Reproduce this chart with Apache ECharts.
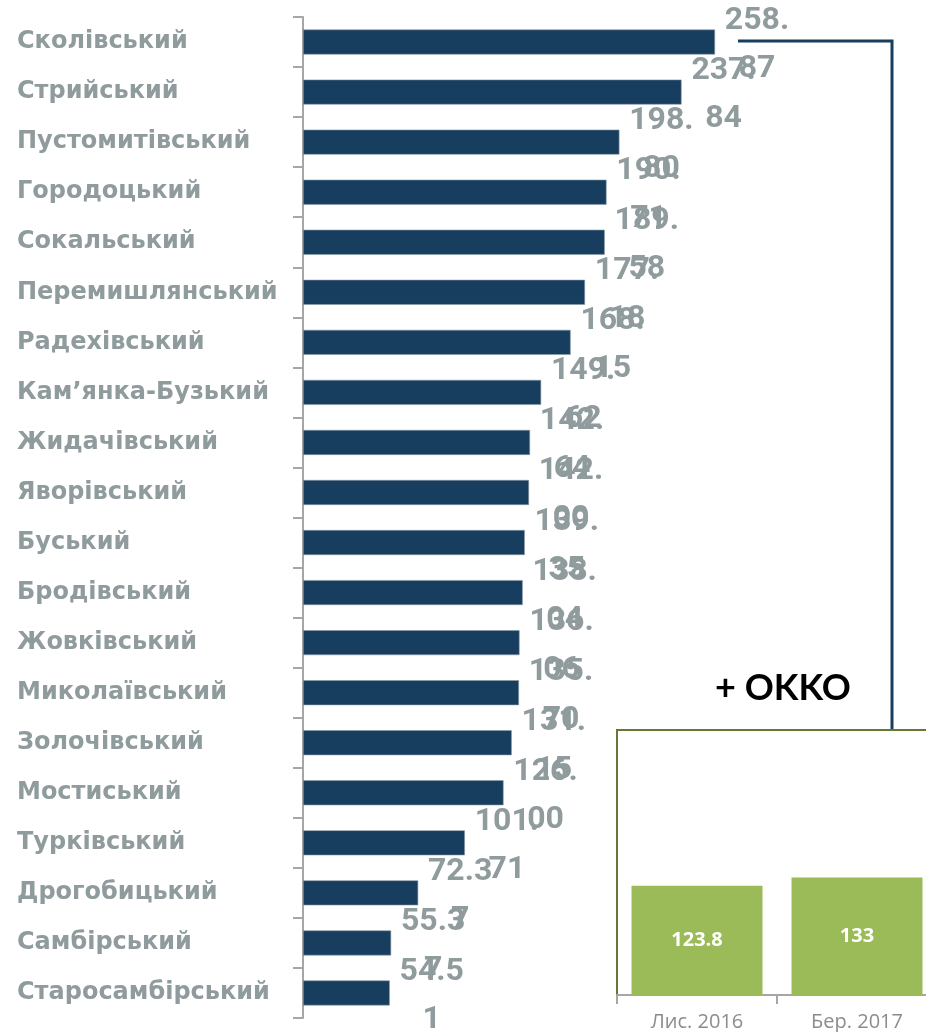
<!DOCTYPE html>
<html>
<head>
<meta charset="utf-8">
<script src="https://cdn.jsdelivr.net/npm/echarts@6/dist/echarts.min.js"></script>
<style>
  html, body { margin: 0; padding: 0; background: #fff; }
  #chart { width: 926px; height: 1032px; }
</style>
</head>
<body>
<div id="chart"></div>
<script>
// райони Львівської області
const districts = [
  'Сколівський', 'Стрийський', 'Пустомитівський', 'Городоцький', 'Сокальський',
  'Перемишлянський', 'Радехівський', 'Кам’янка-Бузький', 'Жидачівський', 'Яворівський',
  'Буський', 'Бродівський', 'Жовківський', 'Миколаївський', 'Золочівський',
  'Мостиський', 'Турківський', 'Дрогобицький', 'Самбірський', 'Старосамбірський'
];
const districtValues = [
  258.87, 237.84, 198.80, 190.71, 189.58,
  177.18, 168.15, 149.62, 142.64, 142.00,
  139.35, 138.04, 136.06, 135.70, 131.15,
  126.00, 101.71, 72.37, 55.37, 54.51
];
// вставка ОККО
const okkoMonths = ['Лис. 2016', 'Бер. 2017'];
const okkoValues = [123.8, 133];

const navy = '#173d5f';
const grey = '#8f9b9c';

const chart = echarts.init(document.getElementById('chart'));
chart.setOption({
  backgroundColor: '#fff',
  animation: false,
  grid: [
    { left: 303, top: 17, width: 477.5, height: 1001, outerBoundsMode: 'none' },
    { left: 617, top: 730, width: 320, height: 265, show: true, outerBoundsMode: 'none',
      borderColor: '#66773a', borderWidth: 2, backgroundColor: 'transparent' }
  ],
  xAxis: [
    { gridIndex: 0, type: 'value', min: 0, max: 300, show: false },
    { gridIndex: 1, type: 'category', data: okkoMonths,
      axisLine: { lineStyle: { color: '#a6a6a6', width: 2 } },
      axisTick: { show: true, length: 9, lineStyle: { color: '#a6a6a6', width: 2 } },
      axisLabel: { color: '#8c8c8c', fontSize: 20, margin: 17, fontFamily: 'Open Sans' } }
  ],
  yAxis: [
    { gridIndex: 0, type: 'category', data: districts, inverse: true,
      axisLine: { lineStyle: { color: '#a6a6a6', width: 2 } },
      axisTick: { show: true, length: 10, lineStyle: { color: '#a6a6a6', width: 2 } },
      axisLabel: { align: 'left', margin: 286, color: grey, fontSize: 24,
        fontWeight: 'bold', fontFamily: 'DejaVu Sans' } },
    { gridIndex: 1, type: 'value', min: 0, max: 300, show: false }
  ],
  series: [
    {
      type: 'bar', xAxisIndex: 0, yAxisIndex: 0,
      data: districtValues,
      barWidth: 25,
      itemStyle: { color: navy, borderColor: '#8c9aa6', borderWidth: 0.6 },
      label: {
        show: true, position: 'right', distance: 0, align: 'center', offset: [42, 3],
        color: grey, fontSize: 32, fontWeight: 'bold', fontFamily: 'Roboto', lineHeight: 48,
        formatter: function (p) {
          const s = p.value.toFixed(2);
          return s.slice(0, 4) + '\n' + s.slice(4);
        }
      }
    },
    {
      type: 'bar', xAxisIndex: 1, yAxisIndex: 1,
      data: okkoValues,
      barWidth: 131,
      itemStyle: { color: '#9bbb59' },
      label: { show: true, position: 'inside', color: '#fff', fontSize: 20,
        fontWeight: 'bold', fontFamily: 'Open Sans' }
    }
  ],
  graphic: [
    { type: 'polyline', shape: { points: [[738, 41], [892, 41], [892, 729]] },
      style: { stroke: navy, lineWidth: 3, fill: null } },
    { type: 'text', left: 715, top: 670,
      style: { text: '+ OKKO', fill: '#000', font: 'bold 36px Lato' } }
  ]
});
</script>
</body>
</html>
